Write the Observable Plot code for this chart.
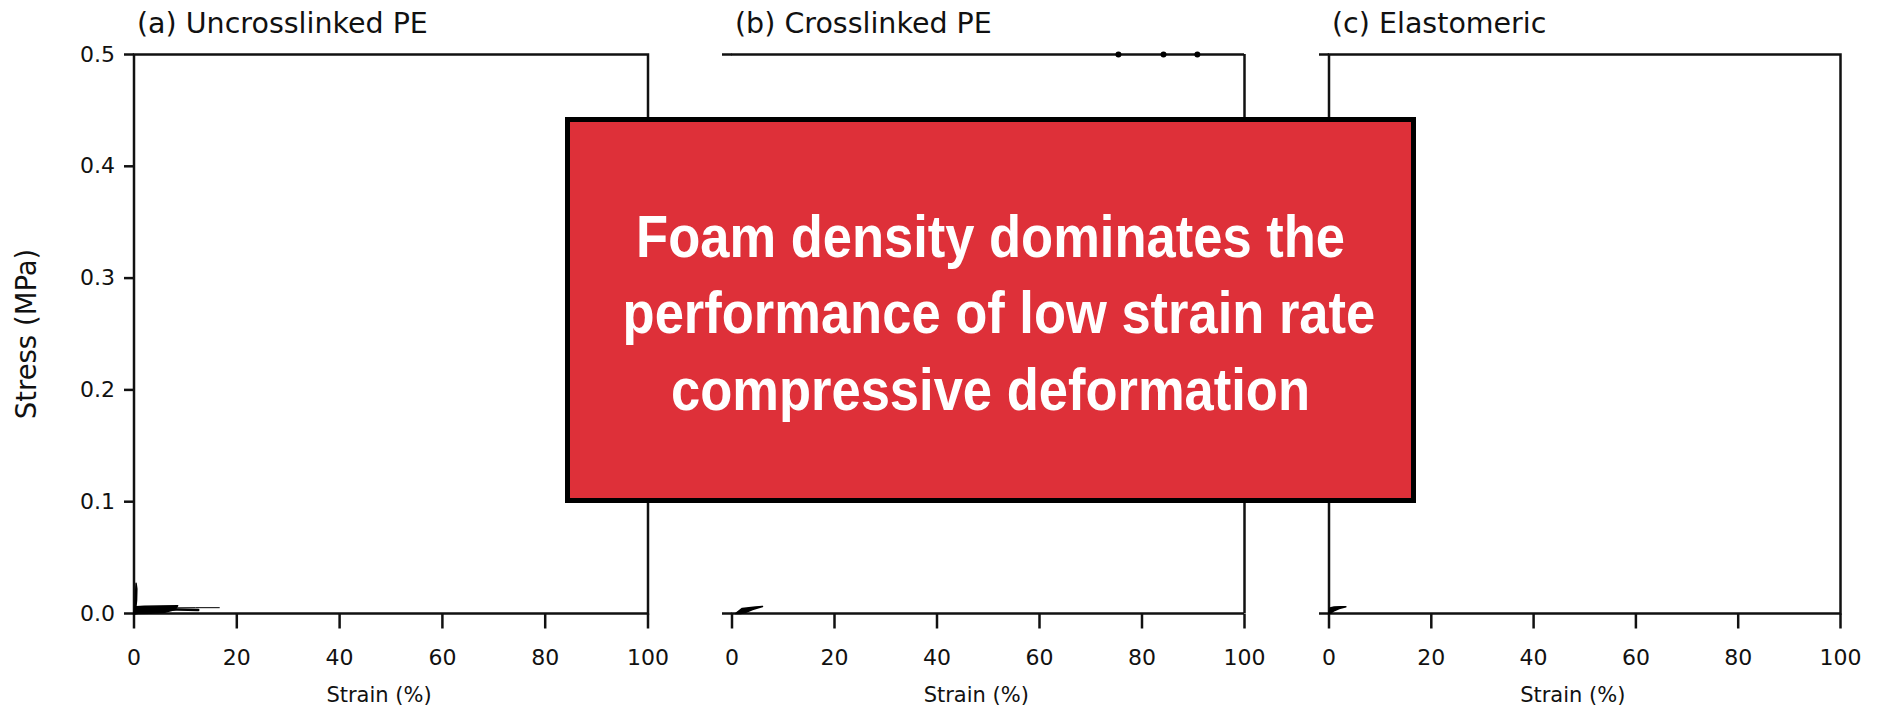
<!DOCTYPE html>
<html><head><meta charset="utf-8">
<script src="https://cdn.jsdelivr.net/npm/d3@7"></script>
<script src="https://cdn.jsdelivr.net/npm/@observablehq/plot@0.6"></script>
<style>
html,body{margin:0;padding:0;background:#fff;}
#root{position:relative;width:1886px;height:713px;overflow:hidden;font-family:"DejaVu Sans",sans-serif;}
.panel{position:absolute;top:0;}
.panel svg{overflow:visible;}
#box{position:absolute;left:565px;top:117px;width:851px;height:386px;box-sizing:border-box;border:5px solid #000;background:#DE3039;z-index:5;}
.msg{position:absolute;left:0;right:0;text-align:center;color:#fff;font-family:"Liberation Sans",Arial,sans-serif;font-weight:bold;font-size:60px;line-height:60px;height:60px;transform:scaleX(0.875);white-space:nowrap;}
</style></head>
<body><div id="root"></div>
<script>
// ---- text ----
const panelTitles = ["(a) Uncrosslinked PE", "(b) Crosslinked PE", "(c) Elastomeric"];
const xTicks = [0, 20, 40, 60, 80, 100];
const yTicks = [0, 0.1, 0.2, 0.3, 0.4, 0.5];
const xLabel = "Strain (%)";
const yLabel = "Stress (MPa)";
const message = ["Foam density dominates the", "performance of low strain rate", "compressive deformation"];

// ---- data: strain (%) and stress (MPa) ----
// (a) Uncrosslinked PE
const aSpikeStrain = [0, 0.2, 0.4, 0.55, 0.5, 0.3, 0];
const aSpikeStress = [0, 0.008, 0.027, 0.022, 0.012, 0.003, 0];
const aLoopStrain  = [0, 0.4, 2, 5, 8.5, 8, 6, 3, 0];
const aLoopStress  = [0, 0.006, 0.0065, 0.0068, 0.007, 0.0035, 0.0012, 0.0003, 0];
const aMidStrain   = [0, 4, 8.5, 12.5];
const aMidStress   = [0, 0.0035, 0.0035, 0.0032];
const aLongStrain  = [0, 2, 6, 12, 16.6];
const aLongStress  = [0, 0.0045, 0.005, 0.0052, 0.0052];
// (b) Crosslinked PE
const bLoopStrain  = [0.7, 2, 4.6, 5.95, 4, 2.6, 1.7, 0.7];
const bLoopStress  = [0, 0.0045, 0.0058, 0.0063, 0.0036, 0.0009, 0, 0];
const bTopStrain   = [75.4, 84.2, 90.8];
const bTopStress   = [0.5, 0.5, 0.5];
// (c) Elastomeric
const cLoopStrain  = [0, 0.2, 1, 2.2, 3.3, 2, 1, 0.4, 0];
const cLoopStress  = [0, 0.005, 0.0058, 0.006, 0.006, 0.0045, 0.0025, 0.0005, 0];

const rows = (id, xs, ys) => xs.map((x, k) => ({id, strain: x, stress: ys[k]}));

const ink = "#111";
const axisW = 2.5;
// tick glyphs placed at the scaled tick positions
const tickDown = {draw(ctx) { ctx.moveTo(0, 0); ctx.lineTo(0, 15); }};
const tickLeft = {draw(ctx) { ctx.moveTo(0, 0); ctx.lineTo(-10, 0); }};

function panel(i, cfg) {
  const marks = [];
  if (cfg.frame) marks.push(Plot.frame({stroke: ink, strokeWidth: axisW}));
  else {
    marks.push(Plot.ruleY([yTicks[yTicks.length - 1]], {stroke: ink, strokeWidth: axisW}));
    marks.push(Plot.ruleY([yTicks[0]], {stroke: ink, strokeWidth: axisW}));
    marks.push(Plot.ruleX([xTicks[xTicks.length - 1]], {stroke: ink, strokeWidth: axisW}));
  }
  marks.push(Plot.dot(xTicks, {x: d => d, y: () => yTicks[0], symbol: tickDown, r: 1, fill: "none", stroke: ink, strokeWidth: axisW}));
  marks.push(Plot.dot(yTicks, {x: () => xTicks[0], y: d => d, symbol: tickLeft, r: 1, fill: "none", stroke: ink, strokeWidth: axisW}));
  if (cfg.filled) marks.push(Plot.line(cfg.filled, {x: "strain", y: "stress", z: "id", fill: "#000", stroke: "#000", strokeWidth: 1.5, curve: "linear"}));
  if (cfg.thick) marks.push(Plot.line(cfg.thick, {x: "strain", y: "stress", z: "id", stroke: "#000", strokeWidth: 2.5}));
  if (cfg.thin) marks.push(Plot.line(cfg.thin, {x: "strain", y: "stress", z: "id", stroke: "#000", strokeWidth: 1}));
  if (cfg.dots) marks.push(Plot.dot(cfg.dots, {x: "strain", y: "stress", r: 3, fill: "#000", stroke: null}));
  marks.push(Plot.text([panelTitles[i]], {text: d => d, frameAnchor: "top-left", textAnchor: "start", lineAnchor: "middle", dx: 3, dy: -31, fontSize: 28.5, fill: ink}));
  marks.push(Plot.text([xLabel], {text: d => d, frameAnchor: "bottom", textAnchor: "middle", lineAnchor: "middle", dx: -12, dy: 82, fontSize: 21, fill: ink}));
  if (cfg.yLabel) marks.push(Plot.text([yLabel], {text: d => d, frameAnchor: "left", textAnchor: "middle", lineAnchor: "middle", dx: -107, rotate: -90, fontSize: 27.5, fill: ink}));
  const svg = Plot.plot({
    width: cfg.width, height: 713,
    marginTop: 54, marginBottom: 100, marginLeft: cfg.ml, marginRight: cfg.mr,
    style: {background: "transparent", fontFamily: "DejaVu Sans", fontSize: "22px", color: ink, overflow: "visible"},
    x: {domain: [0, 100], ticks: xTicks, tickSize: 0, tickPadding: 36, label: null},
    y: {domain: [0, 0.5], ticks: yTicks, tickSize: 0, tickPadding: 19, label: null,
        tickFormat: cfg.yLabels ? d3.format(".1f") : () => ""},
    marks
  });
  const div = document.createElement("div");
  div.className = "panel";
  div.style.left = cfg.left + "px";
  div.appendChild(svg);
  document.getElementById("root").appendChild(div);
}

panel(0, {left: 0, width: 665, ml: 133.5, mr: 17.5, frame: true, yLabels: true, yLabel: true,
  filled: [...rows("a1", aSpikeStrain, aSpikeStress), ...rows("a2", aLoopStrain, aLoopStress)],
  thick: rows("a3", aMidStrain, aMidStress),
  thin: rows("a4", aLongStrain, aLongStress)});
panel(1, {left: 665, width: 597, ml: 66.5, mr: 18, frame: false,
  filled: rows("b1", bLoopStrain, bLoopStress),
  dots: rows("b2", bTopStrain, bTopStress)});
panel(2, {left: 1262, width: 624, ml: 66.5, mr: 46, frame: true,
  filled: rows("c1", cLoopStrain, cLoopStress)});

// annotation box
const box = document.createElement("div");
box.id = "box";
const baselines = [140, 216, 293];
message.forEach((t, k) => {
  const m = document.createElement("div");
  m.className = "msg";
  m.textContent = t;
  m.style.top = (baselines[k] - 5 - 50) + "px";
  box.appendChild(m);
});
document.getElementById("root").appendChild(box);
</script>
</body></html>
